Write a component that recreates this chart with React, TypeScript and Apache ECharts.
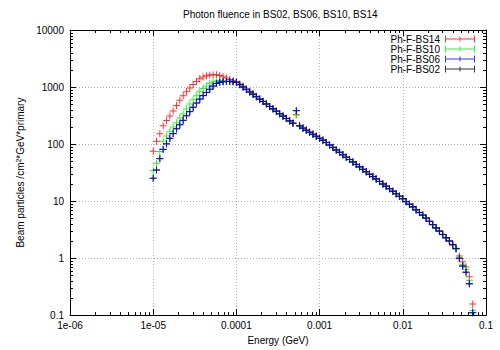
import React, { useEffect, useRef } from "react";
import * as echarts from "echarts";

// Bin energies (GeV), log-spaced, 25 per decade
const energies = [
  1.000e-5, 1.096e-5, 1.202e-5, 1.318e-5, 1.445e-5, 1.585e-5, 1.738e-5, 1.905e-5, 2.089e-5, 2.291e-5,
  2.512e-5, 2.754e-5, 3.020e-5, 3.311e-5, 3.631e-5, 3.981e-5, 4.365e-5, 4.786e-5, 5.248e-5, 5.754e-5,
  6.310e-5, 6.918e-5, 7.586e-5, 8.318e-5, 9.120e-5,
  1.000e-4, 1.096e-4, 1.202e-4, 1.318e-4, 1.445e-4, 1.585e-4, 1.738e-4, 1.905e-4, 2.089e-4, 2.291e-4,
  2.512e-4, 2.754e-4, 3.020e-4, 3.311e-4, 3.631e-4, 3.981e-4, 4.365e-4, 4.786e-4, 5.248e-4, 5.754e-4,
  6.310e-4, 6.918e-4, 7.586e-4, 8.318e-4, 9.120e-4,
  1.000e-3, 1.096e-3, 1.202e-3, 1.318e-3, 1.445e-3, 1.585e-3, 1.738e-3, 1.905e-3, 2.089e-3, 2.291e-3,
  2.512e-3, 2.754e-3, 3.020e-3, 3.311e-3, 3.631e-3, 3.981e-3, 4.365e-3, 4.786e-3, 5.248e-3, 5.754e-3,
  6.310e-3, 6.918e-3, 7.586e-3, 8.318e-3, 9.120e-3,
  1.000e-2, 1.096e-2, 1.202e-2, 1.318e-2, 1.445e-2, 1.585e-2, 1.738e-2, 1.905e-2, 2.089e-2, 2.291e-2,
  2.512e-2, 2.754e-2, 3.020e-2, 3.311e-2, 3.631e-2, 3.981e-2, 4.365e-2, 4.786e-2, 5.248e-2, 5.754e-2,
  6.310e-2, 6.918e-2,
];

const bs14 = [
  75, 112, 152, 210, 259, 310, 380, 475, 585, 700, 825, 965, 1110, 1255, 1390, 1500, 1580, 1630, 1645, 1635, 1590, 1520, 1440, 1360, 1290,
  1235, 1130, 1030, 935, 845, 765, 690, 622, 562, 508, 460, 416, 378, 342, 310, 282, 256, 233, 330, 210, 192, 176, 162, 149, 138,
  127, 118, 107, 97.0, 88.0, 79.5, 72.0, 65.5, 59.3, 53.8, 48.8, 44.2, 40.0, 36.3, 33.0, 29.9, 27.1, 24.6, 22.3, 20.2, 18.3, 16.6, 15.0, 13.6, 12.3,
  11.1, 9.85, 8.85, 7.95, 7.05, 6.35, 5.70, 5.05, 4.45, 3.90, 3.40, 3.00, 2.62, 2.29, 2.01, 1.74, 1.49, 1.09, 0.86, 0.70, 0.47, 0.157,
];

const bs10 = [
  34.5, 46, 74, 112, 139, 167, 199, 236, 285, 338, 413, 504, 598, 702, 823, 943, 1045, 1164, 1225, 1276, 1290, 1285, 1275, 1260, 1240,
  1205, 1095, 995, 900, 818, 742, 672, 610, 552, 500, 454, 411, 373, 338, 306, 278, 252, 229, 322, 206, 189, 173, 159, 147, 136,
  125, 116, 105, 95.5, 86.5, 78.5, 71.0, 64.5, 58.4, 53.0, 48.0, 43.5, 39.4, 35.7, 32.4, 29.3, 26.6, 24.1, 21.8, 19.8, 17.9, 16.2, 14.7, 13.3, 12.1,
  10.9, 9.70, 8.70, 7.85, 6.95, 6.25, 5.62, 4.98, 4.37, 3.83, 3.34, 2.93, 2.56, 2.24, 1.97, 1.69, 1.44, 1.01, 0.78, 0.63, 0.41, 0.12,
];

const bs06 = [
  25, 35, 55, 80, 100, 125, 152, 185, 218, 260, 312, 370, 440, 522, 612, 705, 805, 915, 1040, 1150, 1215, 1240, 1250, 1245, 1235,
  1210, 1100, 1000, 905, 820, 745, 675, 612, 555, 503, 456, 413, 375, 340, 308, 280, 254, 231, 386, 208, 190, 175, 161, 148, 137,
  126, 117, 106, 96.1, 87.1, 78.9, 71.5, 64.8, 58.8, 53.3, 48.3, 43.8, 39.7, 35.9, 32.6, 29.5, 26.8, 24.3, 22.0, 19.9, 18.1, 16.4, 14.8, 13.4, 12.2,
  11.0, 9.77, 8.77, 7.90, 7.00, 6.30, 5.66, 5.02, 4.40, 3.86, 3.37, 2.96, 2.59, 2.26, 1.99, 1.71, 1.46, 0.98, 0.72, 0.56, 0.35, 0.11,
];

const bs02 = [
  25, 35, 56, 81, 101, 126, 153, 186, 219, 262, 314, 372, 443, 525, 615, 708, 808, 918, 1042, 1152, 1218, 1242, 1252, 1247, 1236,
  1212, 1102, 1001, 906, 821, 746, 676, 613, 556, 504, 457, 414, 376, 341, 309, 281, 255, 232, 384, 209, 191, 175, 161, 148, 137,
  126, 117, 106, 96.3, 87.2, 79.0, 71.6, 64.9, 58.9, 53.4, 48.4, 43.9, 39.8, 36.0, 32.7, 29.6, 26.9, 24.4, 22.1, 20.0, 18.1, 16.4, 14.9, 13.5, 12.2,
  11.0, 9.79, 8.79, 7.92, 7.02, 6.31, 5.67, 5.03, 4.41, 3.87, 3.38, 2.97, 2.60, 2.27, 2.00, 1.72, 1.47, 0.99, 0.73, 0.57, 0.36, 0.11,
];

const seriesNames = ["Ph-F-BS14", "Ph-F-BS10", "Ph-F-BS06", "Ph-F-BS02"];
const xTickLabels = ["1e-06", "1e-05", "0.0001", "0.001", "0.01", "0.1"];
const yTickLabels = ["0.1", "1", "10", "100", "1000", "10000"];
const titleText = "Photon fluence in BS02, BS06, BS10, BS14";

const FONT = "Liberation Sans";
const CROSS = "path://M0,3L7,3L7,4L0,4Z M3,0L4,0L4,7L3,7Z";
const LEGEND_ICON =
  "path://M0,3L30,3L30,4L0,4Z M0,0L1,0L1,7L0,7Z M29,0L30,0L30,7L29,7Z M14.5,1L15.5,1L15.5,6L14.5,6Z";

const xMinor: number[] = [];
for (let d = -6; d <= -2; d++) for (let m = 2; m <= 9; m++) xMinor.push(m * Math.pow(10, d));
const yMinor: number[] = [];
for (let d = -1; d <= 3; d++) for (let m = 2; m <= 9; m++) yMinor.push(m * Math.pow(10, d));

export default function App() {
  const ref = useRef<HTMLDivElement>(null);
  useEffect(() => {
    if (!ref.current) return;
    const chart = echarts.init(ref.current, undefined, { renderer: "svg" });
    const mk = (name: string, vals: number[], color: string) => ({
      name,
      type: "scatter",
      symbol: CROSS,
      symbolSize: 7,
      silent: true,
      itemStyle: { color, opacity: 0.8 },
      data: energies.map((e, i) => [e, vals[i]]),
    });
    const tickStyle = { stroke: "#000", lineWidth: 1 };
    chart.setOption({
      animation: false,
      backgroundColor: "#fff",
      title: {
        text: titleText,
        left: 183,
        top: 9,
        padding: 0,
        textStyle: { fontFamily: FONT, fontSize: 10, fontWeight: "normal", color: "#000" },
      },
      legend: {
        orient: "vertical",
        right: 25,
        top: 34,
        padding: 0,
        align: "right",
        itemWidth: 30,
        itemHeight: 7,
        itemGap: 0,
        selectedMode: false,
        textStyle: { fontFamily: FONT, fontSize: 10, color: "#000", lineHeight: 9 },
        data: seriesNames.map((n) => ({ name: n, icon: LEGEND_ICON })),
      },
      grid: { left: 70, right: 14, top: 30, bottom: 31 },
      xAxis: [
        {
          type: "log",
          logBase: 10,
          min: 1e-6,
          max: 0.1,
          splitNumber: 5,
          name: "Energy (GeV)",
          nameLocation: "middle",
          nameGap: 19,
          nameTextStyle: { fontFamily: FONT, fontSize: 10, color: "#000" },
          axisLine: { show: true, lineStyle: { color: "#000", width: 1 } },
          axisTick: { show: true, inside: true, length: 6, lineStyle: { color: "#000" } },
          axisLabel: {
            margin: 5,
            fontFamily: FONT,
            fontSize: 10,
            color: "#000",
            formatter: (v: number) => xTickLabels[Math.round(Math.log10(v)) + 6],
          },
          splitLine: { show: true, lineStyle: { color: "#b0b0b0", width: 1, type: [1, 2] } },
        },
        {
          type: "log",
          logBase: 10,
          min: 1e-6,
          max: 0.1,
          splitNumber: 5,
          position: "top",
          axisLine: { show: true, lineStyle: { color: "#000", width: 1 } },
          axisTick: { show: true, inside: true, length: 6, lineStyle: { color: "#000" } },
          axisLabel: { show: false },
          splitLine: { show: false },
        },
      ],
      yAxis: [
        {
          type: "log",
          logBase: 10,
          min: 0.1,
          max: 10000,
          splitNumber: 5,
          name: "Beam particles /cm{sup|2}*GeV*primary",
          nameLocation: "middle",
          nameGap: 41,
          nameTextStyle: {
            fontFamily: FONT,
            fontSize: 10,
            color: "#000",
            rich: {
              sup: { fontFamily: FONT, fontSize: 7, color: "#000", verticalAlign: "top", lineHeight: 8 },
            },
          },
          axisLine: { show: true, lineStyle: { color: "#000", width: 1 } },
          axisTick: { show: true, inside: true, length: 6, lineStyle: { color: "#000" } },
          axisLabel: {
            margin: 6,
            fontFamily: FONT,
            fontSize: 10,
            color: "#000",
            formatter: (v: number) => yTickLabels[Math.round(Math.log10(v)) + 1],
          },
          splitLine: { show: true, lineStyle: { color: "#b0b0b0", width: 1, type: [1, 2] } },
        },
        {
          type: "log",
          logBase: 10,
          min: 0.1,
          max: 10000,
          splitNumber: 5,
          position: "right",
          axisLine: { show: true, lineStyle: { color: "#000", width: 1 } },
          axisTick: { show: true, inside: true, length: 6, lineStyle: { color: "#000" } },
          axisLabel: { show: false },
          splitLine: { show: false },
        },
      ],
      series: [
        {
          type: "custom",
          silent: true,
          z: 1,
          clip: false,
          data: xMinor.map((v) => [v, 1]),
          renderItem: (params: any, api: any) => {
            const cs = params.coordSys;
            const p = api.coord([api.value(0), 1]);
            const x = Math.round(p[0]) + 0.5;
            const top = cs.y;
            const bottom = cs.y + cs.height;
            return {
              type: "group",
              children: [
                { type: "line", shape: { x1: x, y1: bottom, x2: x, y2: bottom - 3 }, style: tickStyle },
                { type: "line", shape: { x1: x, y1: top, x2: x, y2: top + 3 }, style: tickStyle },
              ],
            };
          },
        },
        {
          type: "custom",
          silent: true,
          z: 1,
          clip: false,
          data: yMinor.map((v) => [1e-3, v]),
          renderItem: (params: any, api: any) => {
            const cs = params.coordSys;
            const p = api.coord([1e-3, api.value(1)]);
            const y = Math.round(p[1]) + 0.5;
            const left = cs.x;
            const right = cs.x + cs.width;
            return {
              type: "group",
              children: [
                { type: "line", shape: { x1: left, y1: y, x2: left + 3, y2: y }, style: tickStyle },
                { type: "line", shape: { x1: right, y1: y, x2: right - 3, y2: y }, style: tickStyle },
              ],
            };
          },
        },
        mk(seriesNames[0], bs14, "#ff0000"),
        mk(seriesNames[1], bs10, "#00ee00"),
        mk(seriesNames[3], bs02, "#000000"),
        mk(seriesNames[2], bs06, "#0000ff"),
      ],
    });
    return () => chart.dispose();
  }, []);
  return (
    <div
      ref={ref}
      style={{ position: "fixed", left: 0, top: 0, width: 500, height: 350, background: "#fff" }}
    />
  );
}
